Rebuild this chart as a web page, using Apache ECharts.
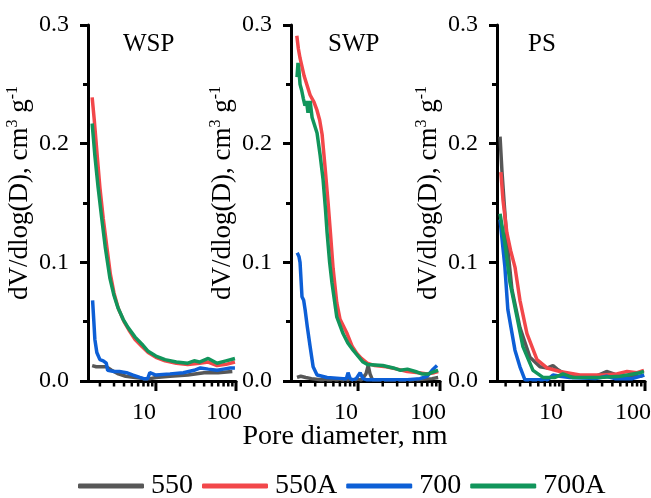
<!DOCTYPE html>
<html>
<head>
<meta charset="utf-8">
<script src="https://cdn.jsdelivr.net/npm/echarts@6/dist/echarts.min.js"></script>
<style>html,body{margin:0;padding:0;background:#fff}#c{width:651px;height:498px}</style>
</head>
<body>
<div id="c"></div>
<script>
// ---- data: [pore diameter (nm), dV/dlog(D) (cm3 g-1)] ----
const panels = ['WSP', 'SWP', 'PS'];
const seriesNames = ['550', '550A', '700', '700A'];
const xMajorTicks = [10, 100];
const xMinorTicks = [2, 3, 4, 5, 6, 7, 8, 9, 20, 30, 40, 50, 60, 70, 80, 90];
const xMins = [1.42, 1.52, 1.57];

const wsp550 = [[1.6,0.013],[1.8,0.012],[2.1,0.012],[2.4,0.012],[2.8,0.009],[3.4,0.006],[4.2,0.004],[5.5,0.003],[7,0.002],[8.5,0.002],[10,0.003],[15,0.004],[25,0.005],[40,0.007],[60,0.007],[90,0.008]];
const wsp550A = [[1.6,0.239],[1.7,0.22],[1.85,0.19],[2.0,0.163],[2.2,0.137],[2.45,0.112],[2.7,0.09],[3.0,0.074],[3.4,0.061],[4.0,0.05],[4.6,0.043],[5.5,0.035],[6.7,0.029],[8,0.024],[10,0.02],[13,0.017],[18,0.015],[25,0.014],[35,0.015],[45,0.016],[58,0.013],[75,0.014],[97,0.016]];
const wsp700 = [[1.62,0.068],[1.68,0.05],[1.73,0.035],[1.83,0.024],[2.0,0.018],[2.2,0.017],[2.4,0.015],[2.5,0.009],[3.0,0.008],[3.5,0.008],[4.3,0.007],[5.2,0.005],[6.3,0.003],[7.0,0.002],[7.9,0.002],[8.4,0.007],[10,0.005],[15,0.006],[22,0.007],[30,0.009],[36,0.011],[45,0.010],[58,0.009],[70,0.010],[85,0.011],[97,0.011]];
const wsp700A = [[1.6,0.217],[1.73,0.19],[1.9,0.163],[2.1,0.138],[2.33,0.113],[2.66,0.087],[3.0,0.072],[3.35,0.062],[3.9,0.052],[4.5,0.045],[5.5,0.037],[6.7,0.031],[8,0.025],[10,0.021],[13,0.018],[18,0.016],[25,0.015],[30,0.017],[35,0.016],[45,0.019],[58,0.015],[75,0.017],[97,0.019]];

const swp550 = [[1.8,0.003],[2.0,0.004],[2.3,0.003],[2.7,0.002],[3.5,0.001],[5,0.001],[8,0.001],[11,0.001],[12.5,0.006],[13.3,0.013],[14,0.006],[15,0.001],[25,0.001],[50,0.001],[80,0.002],[95,0.003]];
const swp550A = [[1.79,0.291],[1.87,0.28],[1.96,0.272],[2.2,0.257],[2.6,0.241],[2.9,0.235],[3.16,0.228],[3.4,0.22],[3.64,0.208],[3.96,0.18],[4.31,0.15],[4.6,0.125],[4.96,0.095],[5.5,0.066],[6.03,0.052],[7.35,0.040],[8.5,0.029],[9.72,0.023],[11,0.019],[12.9,0.015],[16,0.013],[22,0.012],[30,0.010],[40,0.008],[55,0.007],[70,0.006],[85,0.007],[95,0.008]];
const swp700 = [[1.81,0.108],[1.9,0.105],[1.96,0.100],[2.07,0.071],[2.17,0.068],[2.26,0.06],[2.4,0.046],[2.6,0.029],[2.83,0.012],[3.16,0.005],[4.19,0.003],[6.56,0.002],[7.2,0.002],[7.55,0.007],[8.0,0.002],[8.69,0.001],[9.5,0.002],[10.6,0.007],[11.5,0.002],[12.9,0.001],[20,0.001],[40,0.001],[57,0.002],[70,0.004],[80,0.009],[92,0.013]];
const swp700A = [[1.8,0.256],[1.85,0.268],[1.9,0.262],[1.96,0.25],[2.05,0.245],[2.15,0.238],[2.25,0.232],[2.35,0.236],[2.45,0.226],[2.6,0.236],[2.75,0.222],[3.16,0.209],[3.45,0.19],[3.74,0.17],[4.0,0.145],[4.19,0.125],[4.5,0.1],[4.8,0.083],[5.5,0.054],[6.56,0.040],[7.5,0.032],[8.7,0.026],[10,0.021],[11.5,0.016],[13,0.014],[20,0.013],[27,0.011],[33,0.009],[40,0.010],[50,0.008],[60,0.006],[72,0.006],[85,0.008],[95,0.009]];

const ps550 = [[1.71,0.206],[1.8,0.178],[1.91,0.152],[2.07,0.119],[2.39,0.077],[2.99,0.045],[3.96,0.020],[5.24,0.012],[6.5,0.011],[7.55,0.013],[8.5,0.010],[10,0.007],[16,0.004],[25,0.004],[34,0.008],[50,0.004],[87,0.004],[97,0.005]];
const ps550A = [[1.75,0.176],[1.86,0.152],[2.07,0.125],[2.3,0.11],[2.6,0.096],[2.99,0.068],[3.64,0.040],[4.82,0.018],[6.38,0.011],[9.19,0.008],[16.1,0.005],[30.7,0.005],[45,0.006],[60.4,0.008],[80,0.007],[97,0.009]];
const ps700 = [[1.71,0.136],[1.96,0.096],[2.13,0.060],[2.6,0.026],[2.99,0.012],[3.44,0.001],[6.5,0.001],[7.55,0.005],[9.2,0.004],[12,0.003],[25,0.002],[34,0.004],[43,0.002],[70,0.002],[98,0.005]];
const ps700A = [[1.71,0.141],[1.96,0.116],[2.26,0.083],[2.75,0.054],[3.25,0.029],[4.31,0.009],[5.7,0.003],[8,0.003],[10,0.006],[13,0.003],[28,0.003],[50,0.004],[87,0.007],[97,0.008]];

const panelData = [
  [wsp550, wsp550A, wsp700, wsp700A],
  [swp550, swp550A, swp700, swp700A],
  [ps550, ps550A, ps700, ps700A]
];

// ---- styles ----
const FONT = 'Liberation Serif';
const colors = ['#575757', '#f2474a', '#0d5fd6', '#11955b'];
const grids = [
  {left: 88, width: 148, top: 25, height: 356},
  {left: 291, width: 149, top: 25, height: 356},
  {left: 497, width: 148, top: 25, height: 356}
];
const titlePos = [[123, 32], [328, 32], [528, 32]];

// tick marks of the log axes, placed through the axis scale (value, major flag)
const tickData = xMajorTicks.map(v => [v, 1]).concat(xMinorTicks.map(v => [v, 0]));
function renderTick(params, api) {
  const p = api.coord([api.value(0), 0]);
  const major = api.value(1) === 1;
  return {
    type: 'line',
    shape: {x1: p[0], y1: p[1], x2: p[0], y2: p[1] + (major ? 10 : 5.5)},
    style: {stroke: '#000', lineWidth: major ? 3 : 2.5}
  };
}

const xAxes = [], yAxes = [], series = [], titles = [];
grids.forEach((g, i) => {
  xAxes.push({
    gridIndex: i, type: 'log', logBase: 10, min: xMins[i], max: 100,
    axisLine: {show: true, lineStyle: {color: '#000', width: 3}},
    axisTick: {show: false},
    axisLabel: {show: true, customValues: xMajorTicks, margin: 20, fontSize: 24, fontFamily: FONT, color: '#000',
      align: 'center', padding: [0, 24, 0, 0]},
    splitLine: {show: false}, minorTick: {show: false}, minorSplitLine: {show: false}
  });
  yAxes.push({
    gridIndex: i, type: 'value', min: 0, max: 0.3, interval: 0.1,
    axisLine: {show: true, lineStyle: {color: '#000', width: 3}},
    axisTick: {show: true, length: 8, lineStyle: {color: '#000', width: 3}},
    minorTick: {show: true, splitNumber: 2, length: 5, lineStyle: {color: '#000', width: 3}},
    splitLine: {show: false},
    axisLabel: {margin: 19, fontSize: 24, fontFamily: FONT, color: '#000', formatter: v => v.toFixed(1)},
    name: 'dV/dlog(D), cm{sup|3} g{sup|-1}',
    nameLocation: 'middle', nameGap: 42,
    nameTextStyle: {fontSize: 27, fontFamily: FONT, color: '#000', lineHeight: 30, padding: [0, 0, 0, 20],
      rich: {sup: {fontSize: 16, fontFamily: FONT, color: '#000', verticalAlign: 'top', lineHeight: 18}}}
  });
  titles.push({text: panels[i], left: titlePos[i][0], top: titlePos[i][1], padding: 0,
    textStyle: {fontSize: 25, fontWeight: 'normal', fontFamily: FONT, color: '#000'}});
  panelData[i].forEach((d, k) => {
    series.push({
      type: 'line', name: seriesNames[k], xAxisIndex: i, yAxisIndex: i,
      data: d, showSymbol: false, symbol: 'none', silent: true,
      lineStyle: {color: colors[k], width: 3.5}, itemStyle: {color: colors[k]}, z: 2 + k
    });
  });
  series.push({
    type: 'custom', name: 'ticks' + i, xAxisIndex: i, yAxisIndex: i, data: tickData,
    renderItem: renderTick, clip: false, silent: true, z: 10
  });
});

const chart = echarts.init(document.getElementById('c'), null, {renderer: 'canvas'});
chart.setOption({
  animation: false,
  backgroundColor: '#fff',
  title: titles,
  grid: grids.map(g => Object.assign({outerBoundsMode: 'none', containLabel: false}, g)),
  xAxis: xAxes,
  yAxis: yAxes,
  legend: {
    data: seriesNames, left: 78, bottom: -2, padding: 0, icon: 'roundRect', itemWidth: 66, itemHeight: 5,
    itemGap: 9, textStyle: {fontSize: 28, lineHeight: 24, fontFamily: FONT, color: '#000', padding: [0, 0, 0, 2]}
  },
  graphic: [{
    type: 'text', x: 345, y: 437,
    style: {text: 'Pore diameter, nm', font: '28px "Liberation Serif"', fill: '#000', textAlign: 'center', textVerticalAlign: 'middle'}
  }],
  series: series
});
</script>
</body>
</html>
